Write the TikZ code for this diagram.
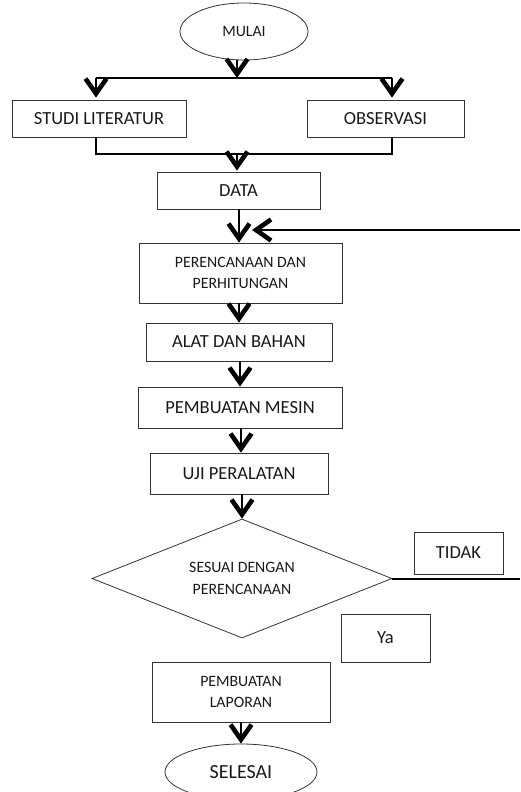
\documentclass[tikz,border=0pt]{standalone}
\usepackage{fontspec}
\setmainfont{Carlito}
\usetikzlibrary{arrows.meta,shapes.geometric}
\begin{document}
\begin{tikzpicture}[x=1pt,y=-1pt,
  box/.style={draw=black!80,line width=0.8pt,rectangle,inner sep=0pt,align=center,text=black!90},
  oval/.style={draw=black!80,line width=0.8pt,ellipse,inner sep=0pt,align=center,text=black!90},
  big/.style={font=\fontsize{18.5}{22}\selectfont},
  small/.style={font=\fontsize{15.8}{21.7}\selectfont},
  conn/.style={line width=2pt},
  arr/.style={conn,-{Straight Barb[length=15pt,width=21pt,line width=4.6pt]}},
]
\useasboundingbox (0,0) rectangle (520,792);
% nodes
\node[oval,small,minimum width=128pt,minimum height=57pt] (mulai) at (244,31.5) {MULAI};
\node[box,big,minimum width=174pt,minimum height=37pt] (studi) at (99,118.5) {STUDI LITERATUR};
\node[box,big,minimum width=157pt,minimum height=37pt] (obs) at (385.5,118.5) {OBSERVASI};
\node[box,big,minimum width=163pt,minimum height=37pt] (data) at (238.5,190.5) {DATA};
\node[box,small,minimum width=203pt,minimum height=60pt] (plan) at (240.5,273) {PERENCANAAN DAN\\PERHITUNGAN};
\node[box,big,minimum width=186pt,minimum height=38pt] (alat) at (239,342) {ALAT DAN BAHAN};
\node[box,big,minimum width=204pt,minimum height=41pt] (mesin) at (240,407.5) {PEMBUATAN MESIN};
\node[box,big,minimum width=178pt,minimum height=41pt] (uji) at (239,473.5) {UJI PERALATAN};
\node[draw=black!80,line width=0.8pt,diamond,aspect=2.52,inner sep=0pt,align=center,text=black!90,small,minimum width=300pt,minimum height=119pt] (dec) at (242,578.5) {SESUAI DENGAN\\PERENCANAAN};
\node[box,big,minimum width=89pt,minimum height=42pt] (tidak) at (458.5,553) {TIDAK};
\node[box,big,minimum width=89pt,minimum height=48pt] (ya) at (385.5,638) {Ya};
\node[box,small,minimum width=178pt,minimum height=60pt] (lap) at (241,692) {PEMBUATAN\\LAPORAN};
\node[oval,font=\fontsize{20}{24}\selectfont,minimum width=152pt,minimum height=56pt] (selesai) at (241,772) {SELESAI};
% coordinates
\coordinate (s1) at (237,78);
\coordinate (sL) at (96,78);
\coordinate (sR) at (392,78);
\coordinate (jL) at (96,154);
\coordinate (jR) at (392,154);
\coordinate (j) at (237,154);
\coordinate (fbR) at (520,230);
\coordinate (fbT) at (252,230);
\coordinate (noR) at (520,578.5);
% connectors
\draw[arr] (mulai.south -| s1) -- (s1);
\draw[conn] (sL) -- (sR);
\draw[arr,shorten >=2pt] (sL) -- (studi.north -| sL);
\draw[arr,shorten >=2pt] (sR) -- (obs.north -| sR);
\draw[conn] (studi.south -| jL) -- (jL) -- (jR) -- (obs.south -| jR);
\draw[arr,shorten >=1pt] (j) -- (data.north -| j);
\draw[arr] (data.south -| 239,0) -- (plan.north -| 239,0);
\draw[arr] (fbR) -- (fbT);
\draw[arr] (plan.south -| 239,0) -- (alat.north -| 239,0);
\draw[arr] (alat.south -| 240,0) -- (mesin.north -| 240,0);
\draw[arr] (mesin.south -| 241,0) -- (uji.north -| 241,0);
\draw[arr] (uji.south -| dec.north) -- (dec.north);
\draw[conn] (dec.east) -- (noR);
\draw[arr] (lap.south -| selesai.north) -- (selesai.north);
\end{tikzpicture}
\end{document}
